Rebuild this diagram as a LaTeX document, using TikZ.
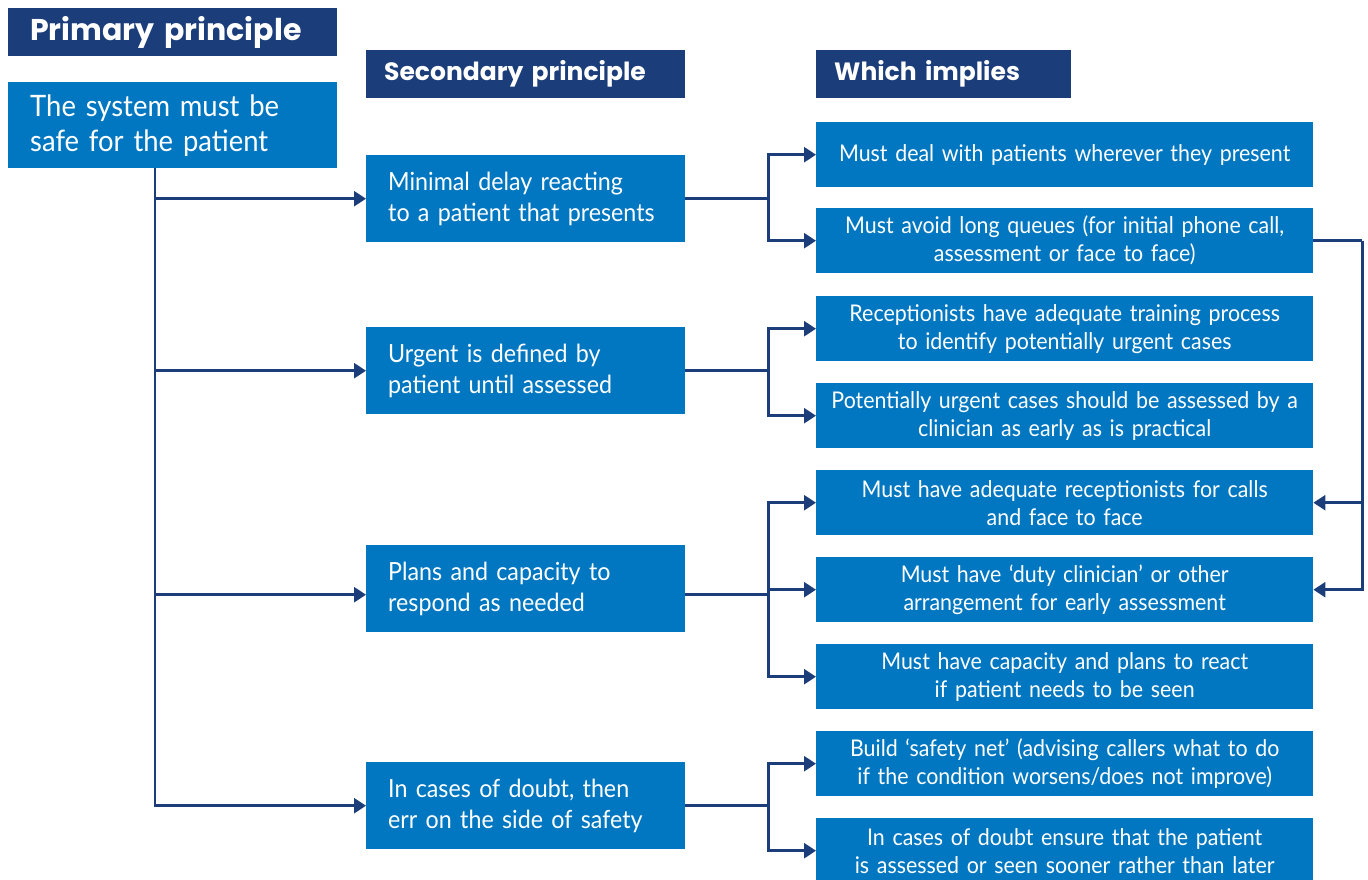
\documentclass[tikz,border=0pt]{standalone}
\usepackage{fontspec}
\setmainfont{Lato}[FakeStretch=0.93]
\newfontfamily\headfont{Poppins}[BoldFont={Poppins Bold}]
\usetikzlibrary{arrows.meta}
\definecolor{navy}{RGB}{27,61,122}
\definecolor{boxblue}{RGB}{0,119,192}
\tikzset{
  head/.style={fill=navy,text=white,anchor=north west,inner xsep=20pt,inner ysep=0pt,
    minimum height=48pt,align=left,text width=#1},
  mainbox/.style={fill=boxblue,text=white,anchor=north west,inner xsep=22pt,inner ysep=0pt,
    minimum height=86pt,text width=285pt,align=left,font=\fontsize{29.5}{35}\selectfont},
  secbox/.style={fill=boxblue,text=white,anchor=north west,inner xsep=22pt,inner ysep=0pt,
    minimum height=87pt,text width=275pt,align=left,font=\fontsize{25}{31}\selectfont},
  impbox/.style={fill=boxblue,text=white,anchor=north west,inner xsep=6pt,inner ysep=0pt,
    minimum height=65pt,text width=485pt,align=center,font=\fontsize{23}{28}\selectfont},
  link/.style={draw=navy,line width=2.5pt},
  arrow/.style={link,-{Triangle[length=12pt,width=15pt]}}
}
\begin{document}
\begin{tikzpicture}[x=1pt,y=-1pt]
\useasboundingbox (0,0) rectangle (1368,879);

\node[head=285pt,inner xsep=22pt,font=\headfont\fontsize{30}{36}\selectfont\bfseries] (hprim) at (8,8) {Primary principle};
\node[head=283pt,inner xsep=18pt,font=\headfont\fontsize{25}{30}\selectfont\bfseries] (hsec) at (366,50) {Secondary principle};
\node[head=219pt,inner xsep=18pt,font=\headfont\fontsize{25}{30}\selectfont\bfseries] (himp) at (816,50) {Which implies};

\node[mainbox] (sys) at (8,82) {The system must be\\safe for the patient};

\node[secbox] (sec1) at (366,155) {Minimal delay reacting\\to a patient that presents};
\node[secbox] (sec2) at (366,327) {Urgent is defined by\\patient until assessed};
\node[secbox] (sec3) at (366,545) {Plans and capacity to\\respond as needed};
\node[secbox] (sec4) at (366,762) {In cases of doubt, then\\err on the side of safety};

\node[impbox] (imp1) at (816,122) {Must deal with patients wherever they present};
\node[impbox] (imp2) at (816,208) {Must avoid long queues (for initial phone call,\\assessment or face to face)};
\node[impbox] (imp3) at (816,296) {Receptionists have adequate training process\\to identify potentially urgent cases};
\node[impbox] (imp4) at (816,383) {Potentially urgent cases should be assessed by a\\clinician as early as is practical};
\node[impbox] (imp5) at (816,470) {Must have adequate receptionists for calls\\and face to face};
\node[impbox] (imp6) at (816,557) {Must have `duty clinician' or other\\arrangement for early assessment};
\node[impbox] (imp7) at (816,644) {Must have capacity and plans to react\\if patient needs to be seen};
\node[impbox] (imp8) at (816,731) {Build `safety net' (advising callers what to do\\if the condition worsens/does not improve)};
\node[impbox] (imp9) at (816,818) {In cases of doubt ensure that the patient\\is assessed or seen sooner rather than later};

% primary to secondary
\coordinate (trunk) at ([xshift=-17.5pt]sys.south);
\coordinate (s3in) at ([yshift=-6pt]sec3.west);
\coordinate (s3out) at ([yshift=-6pt]sec3.east);
\draw[arrow] (trunk) |- (sec4.west);
\draw[arrow] (trunk |- sec1.west) -- (sec1.west);
\draw[arrow] (trunk |- sec2.west) -- (sec2.west);
\draw[arrow] (trunk |- s3in) -- (s3in);

% secondary to implications
\draw[link] (sec1.east) -- ++(83,0) coordinate (b1);
\draw[arrow] (b1) |- (imp1.west);
\draw[arrow] (b1) |- (imp2.west);
\draw[link] (sec2.east) -- ++(83,0) coordinate (b2);
\draw[arrow] (b2) |- (imp3.west);
\draw[arrow] (b2) |- (imp4.west);
\draw[link] (s3out) -- ++(83,0) coordinate (b3);
\draw[arrow] (b3) |- (imp5.west);
\draw[arrow] (b3) |- (imp6.west);
\draw[arrow] (b3) |- (imp7.west);
\draw[link] (sec4.east) -- ++(83,0) coordinate (b4);
\draw[arrow] (b4) |- (imp8.west);
\draw[arrow] (b4) |- (imp9.west);

% queues feed back to staffing
\draw[link] (imp2.east) -- ++(49,0) coordinate (loop);
\draw[arrow] (loop) |- (imp5.east);
\draw[arrow] (loop) |- (imp6.east);
\end{tikzpicture}
\end{document}
